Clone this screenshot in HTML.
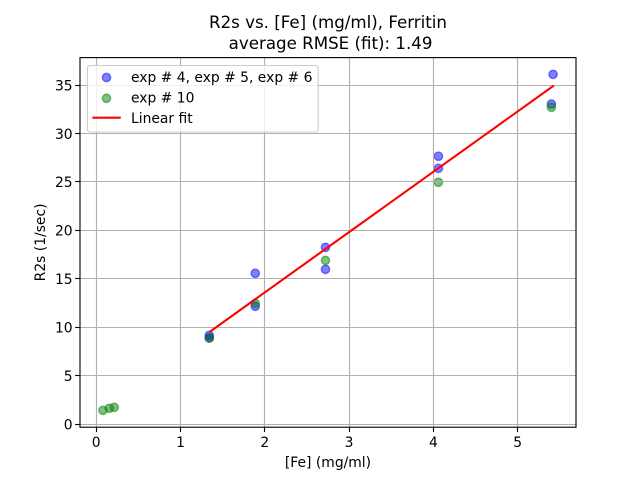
<!DOCTYPE html>
<html>
<head>
<meta charset="utf-8">
<title>R2s vs. [Fe] (mg/ml), Ferritin</title>
<style>
html,body{margin:0;padding:0;background:#fff;}
svg{display:block;}
text{font-family:"DejaVu Sans","Liberation Sans",sans-serif;fill:#000;}
</style>
</head>
<body>
<svg id="chart" xmlns="http://www.w3.org/2000/svg" width="640" height="480" viewBox="0 0 640 480">
  <rect x="0" y="0" width="640" height="480" fill="#fff"/>
  <g id="scatter-layer"></g>
  <g id="grid-layer"></g>
  <g id="fit-layer"></g>
  <g id="axis-layer"></g>
  <rect x="80" y="57.6" width="496" height="369.6" fill="none" stroke="#000" stroke-width="1.11"/>
  <text x="328" y="28" font-size="16.67" text-anchor="middle">R2s vs. [Fe] (mg/ml), Ferritin</text>
  <text x="330.6" y="49" font-size="16.67" text-anchor="middle">average RMSE (fit): 1.49</text>
  <text x="328" y="467" font-size="13.89" text-anchor="middle">[Fe] (mg/ml)</text>
  <text transform="translate(45 242.4) rotate(-90)" font-size="13.89" text-anchor="middle">R2s (1/sec)</text>
  <g>
    <rect x="87.4" y="65.5" width="230.8" height="66.5" rx="2.8" ry="2.8" fill="#fff" fill-opacity="0.8" stroke="#ccc" stroke-width="1.11"/>
    <circle cx="106.5" cy="77.5" r="4.17" fill="#00f" fill-opacity="0.5" stroke="#00f" stroke-opacity="0.5" stroke-width="1.39"/>
    <text x="131" y="82" font-size="13.89">exp # 4, exp # 5, exp # 6</text>
    <circle cx="106.5" cy="98.3" r="4.17" fill="#008000" fill-opacity="0.5" stroke="#008000" stroke-opacity="0.5" stroke-width="1.39"/>
    <text x="131" y="102.5" font-size="13.89">exp # 10</text>
    <line x1="92.4" y1="117.7" x2="120.8" y2="117.7" stroke="#f00" stroke-width="2.08"/>
    <text x="131" y="123" font-size="13.89">Linear fit</text>
  </g>
</svg>
<script>
const xTicks = [0, 1, 2, 3, 4, 5];
const yTicks = [0, 5, 10, 15, 20, 25, 30, 35];
const blueX = [1.342, 1.342, 1.887, 1.887, 2.72, 2.72, 4.06, 4.06, 5.42, 5.40];
const blueY = [9.17, 8.9, 15.57, 12.17, 18.25, 15.98, 27.65, 26.4, 36.1, 33.04];
const greenX = [0.08, 0.155, 0.215, 1.342, 1.887, 2.72, 4.06, 5.40];
const greenY = [1.43, 1.64, 1.74, 8.9, 12.47, 16.9, 24.96, 32.7];
const fitX = [1.342, 5.43];
const fitY = [9.5, 34.95];

const xDomain = [-0.192, 5.692];
const yDomain = [-0.31, 37.83];
const plotLeft = 80, plotRight = 576, plotTop = 57.6, plotBottom = 427.2;
const NS = 'http://www.w3.org/2000/svg';

function xScale(v) {
  return plotLeft + (v - xDomain[0]) / (xDomain[1] - xDomain[0]) * (plotRight - plotLeft);
}
function yScale(v) {
  return plotBottom - (v - yDomain[0]) / (yDomain[1] - yDomain[0]) * (plotBottom - plotTop);
}
function snap(p) {
  return Math.round(p - 0.5) + 0.5;
}

const scatterLayer = document.getElementById('scatter-layer');
const gridLayer = document.getElementById('grid-layer');
const fitLayer = document.getElementById('fit-layer');
const axisLayer = document.getElementById('axis-layer');

function drawPoints(xs, ys, color, name) {
  xs.forEach(function (xv, i) {
    const c = document.createElementNS(NS, 'circle');
    
    
    c.setAttribute('cx', xScale(xv));
    c.setAttribute('cy', yScale(ys[i]));
    c.setAttribute('r', 4.17);
    c.setAttribute('fill', color);
    c.setAttribute('fill-opacity', 0.5);
    c.setAttribute('stroke', color);
    c.setAttribute('stroke-opacity', 0.5);
    c.setAttribute('stroke-width', 1.39);
    scatterLayer.appendChild(c);
  });
}
drawPoints(blueX, blueY, '#0000ff', 'point-exp-4-5-6');
drawPoints(greenX, greenY, '#008000', 'point-exp-10');

xTicks.forEach(function (t) {
  const px = snap(xScale(t));
  const g = document.createElementNS(NS, 'line');
  
  
  g.setAttribute('x1', px);
  g.setAttribute('x2', px);
  g.setAttribute('y1', plotTop);
  g.setAttribute('y2', plotBottom);
  g.setAttribute('stroke', '#b0b0b0');
  g.setAttribute('stroke-width', 1.11);
  gridLayer.appendChild(g);

  const tick = document.createElementNS(NS, 'line');
  
  
  tick.setAttribute('x1', px);
  tick.setAttribute('x2', px);
  tick.setAttribute('y1', plotBottom);
  tick.setAttribute('y2', plotBottom + 4.86);
  tick.setAttribute('stroke', '#000');
  tick.setAttribute('stroke-width', 1.11);
  axisLayer.appendChild(tick);

  const label = document.createElementNS(NS, 'text');
  
  
  label.setAttribute('x', xScale(t));
  label.setAttribute('y', 447);
  label.setAttribute('font-size', 13.89);
  label.setAttribute('text-anchor', 'middle');
  label.textContent = String(t);
  axisLayer.appendChild(label);
});

yTicks.forEach(function (t) {
  const py = snap(yScale(t));
  const g = document.createElementNS(NS, 'line');
  
  
  g.setAttribute('x1', plotLeft);
  g.setAttribute('x2', plotRight);
  g.setAttribute('y1', py);
  g.setAttribute('y2', py);
  g.setAttribute('stroke', '#b0b0b0');
  g.setAttribute('stroke-width', 1.11);
  gridLayer.appendChild(g);

  const tick = document.createElementNS(NS, 'line');
  
  
  tick.setAttribute('x1', plotLeft - 4.86);
  tick.setAttribute('x2', plotLeft);
  tick.setAttribute('y1', py);
  tick.setAttribute('y2', py);
  tick.setAttribute('stroke', '#000');
  tick.setAttribute('stroke-width', 1.11);
  axisLayer.appendChild(tick);

  const label = document.createElementNS(NS, 'text');
  
  
  label.setAttribute('x', 72.6);
  label.setAttribute('y', yScale(t) + 5.3);
  label.setAttribute('font-size', 13.89);
  label.setAttribute('text-anchor', 'end');
  label.textContent = String(t);
  axisLayer.appendChild(label);
});

const fitLine = document.createElementNS(NS, 'polyline');


fitLine.setAttribute('points', fitX.map(function (xv, i) {
  return xScale(xv) + ',' + yScale(fitY[i]);
}).join(' '));
fitLine.setAttribute('fill', 'none');
fitLine.setAttribute('stroke', '#ff0000');
fitLine.setAttribute('stroke-width', 2.08);
fitLayer.appendChild(fitLine);
</script>
</body>
</html>
